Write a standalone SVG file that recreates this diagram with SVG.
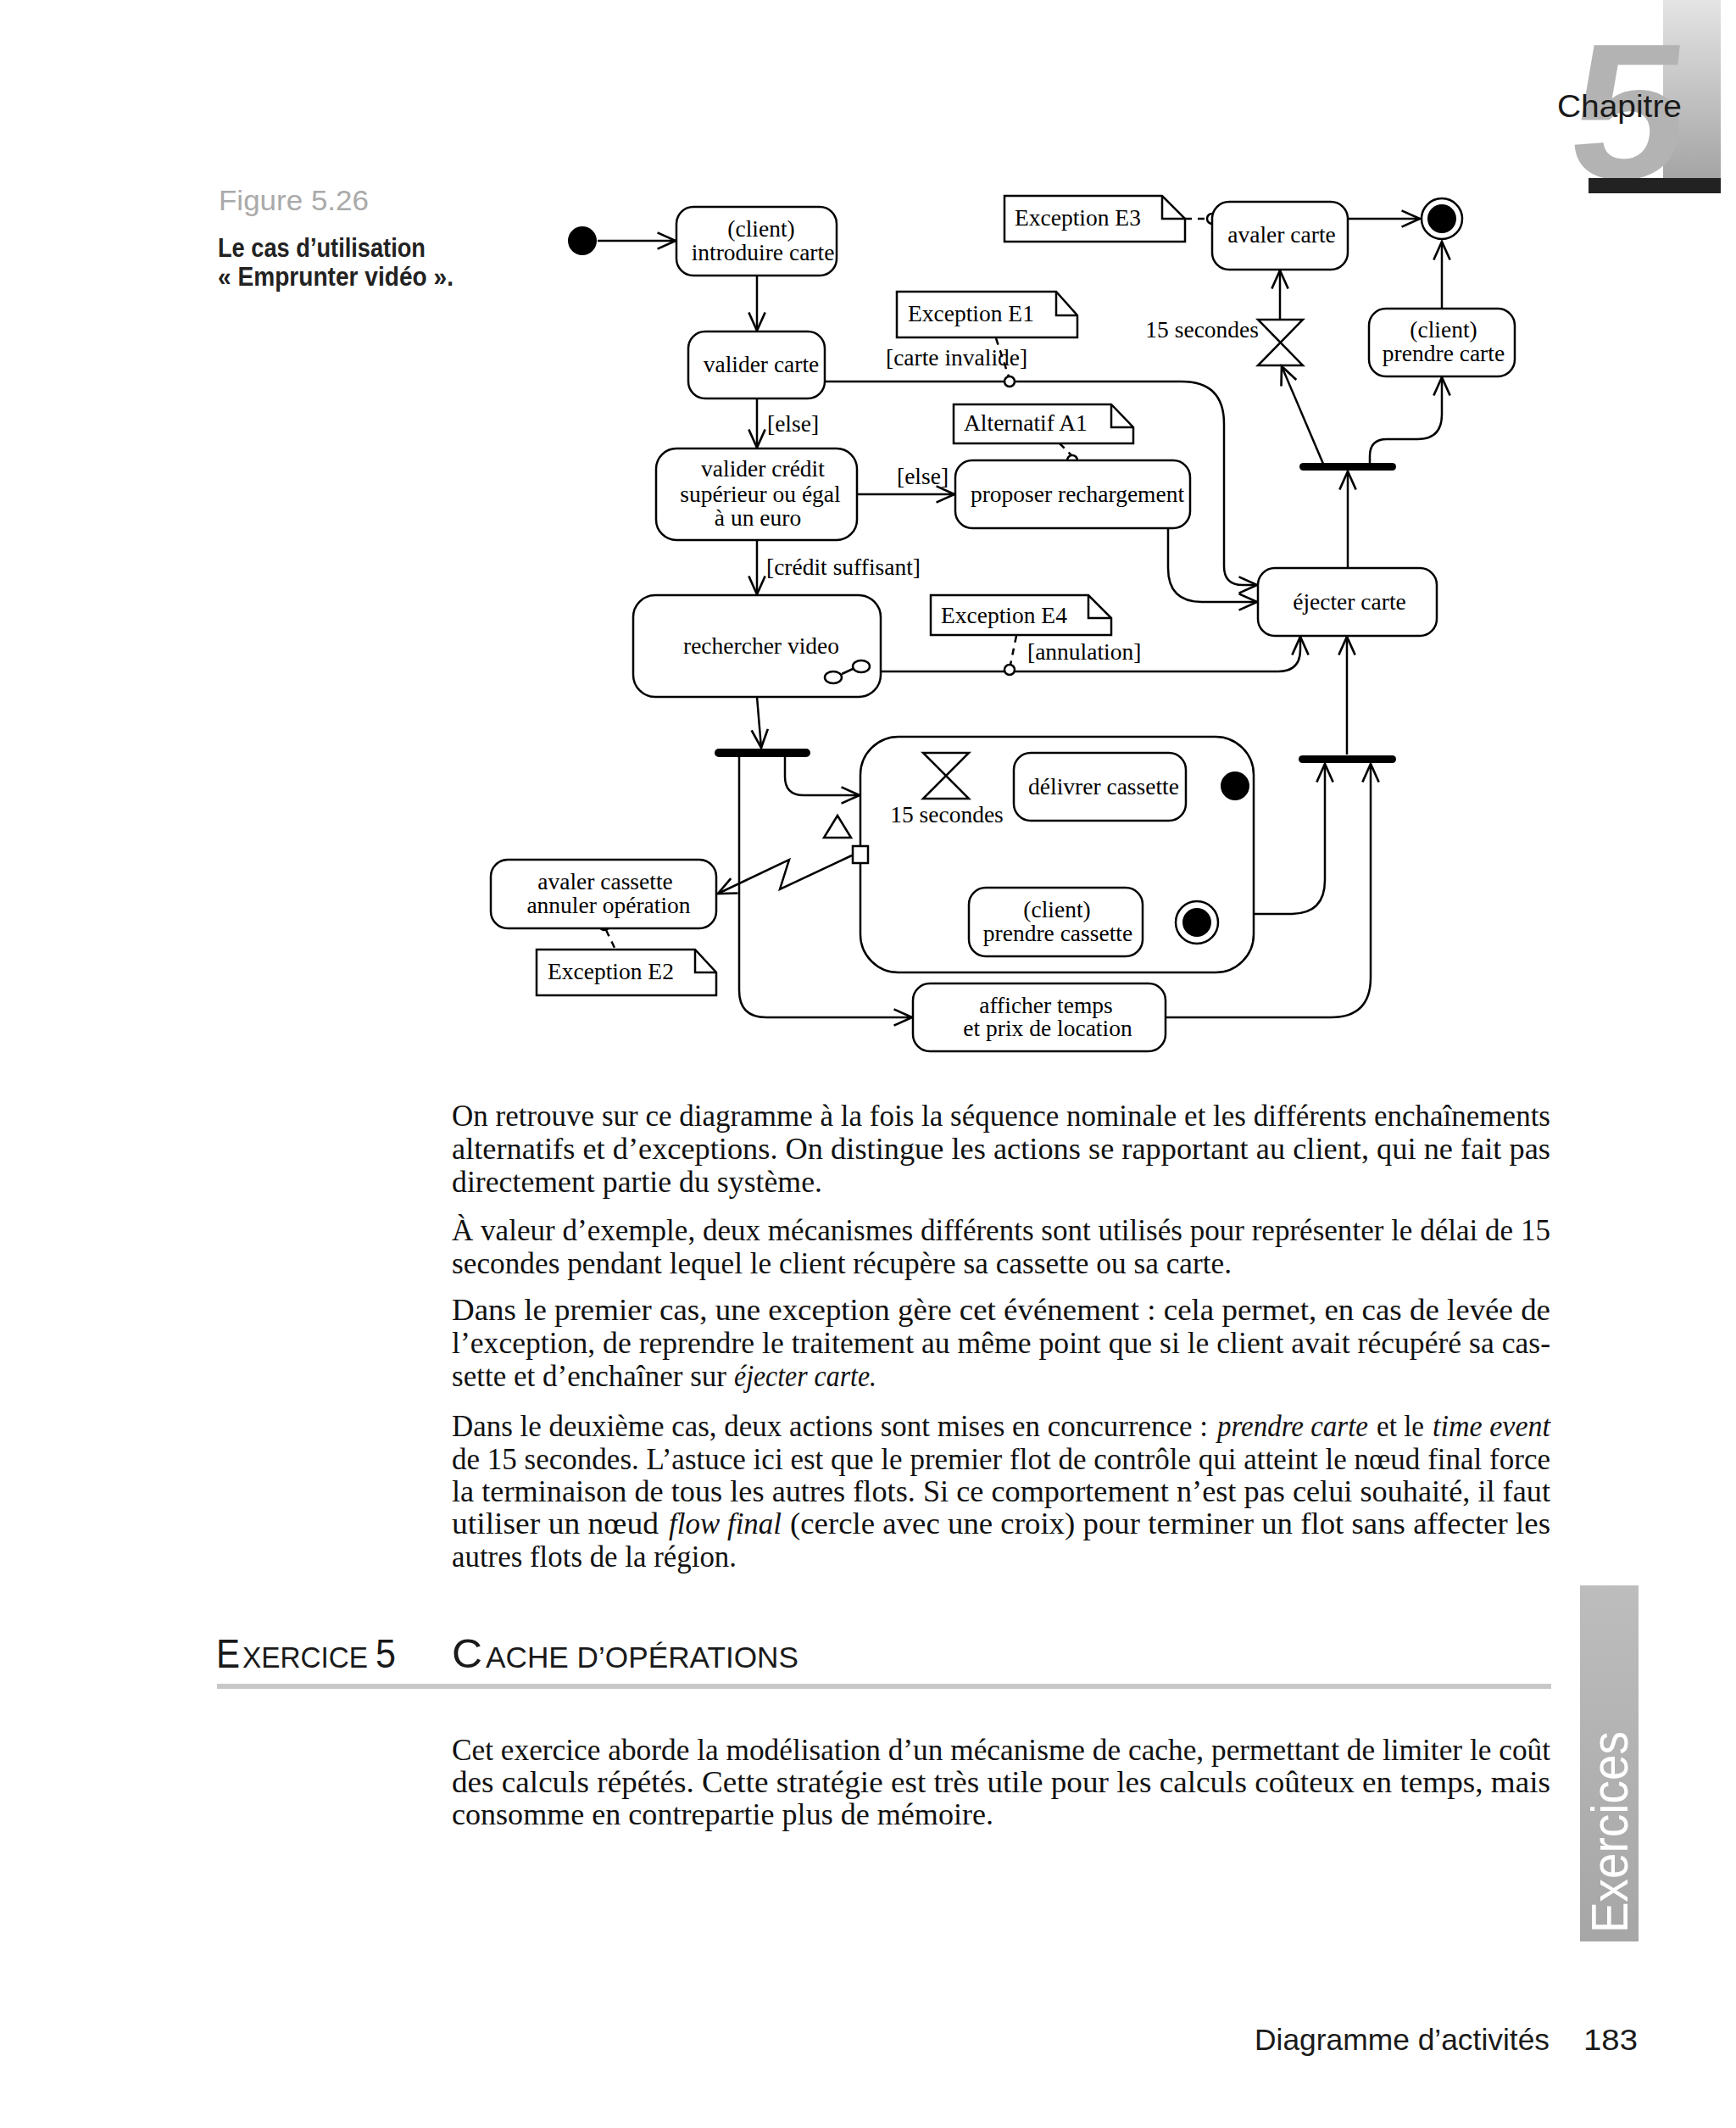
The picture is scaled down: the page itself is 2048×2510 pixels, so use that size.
<svg xmlns="http://www.w3.org/2000/svg" width="2048" height="2510" viewBox="0 0 2048 2510">
<defs>
<marker id="arr" markerUnits="userSpaceOnUse" markerWidth="30" markerHeight="30" viewBox="-24 -12 28 24" refX="0" refY="0" orient="auto">
<path d="M-20,-9 L0,0 L-20,9" fill="none" stroke="#000" stroke-width="2.5"/>
</marker>
<linearGradient id="gtop" x1="0" y1="0" x2="0" y2="1">
<stop offset="0" stop-color="#e4e4e4"/><stop offset="1" stop-color="#a4a4a4"/>
</linearGradient>
<linearGradient id="gside" x1="0" y1="0" x2="0" y2="1">
<stop offset="0" stop-color="#bdbdbd"/><stop offset="1" stop-color="#a6a6a6"/>
</linearGradient>
</defs>
<style>
.box{fill:#fff;stroke:#000;stroke-width:2.5}
.note{fill:#fff;stroke:#000;stroke-width:2.5;stroke-linejoin:miter}
.ln{fill:none;stroke:#000;stroke-width:2.5}
.ar{fill:none;stroke:#000;stroke-width:2.5;marker-end:url(#arr)}
.dash{fill:none;stroke:#000;stroke-width:2.5;stroke-dasharray:8,7}
.pin{fill:#fff;stroke:#000;stroke-width:2.5}
.bar{fill:#000}
.t{font-family:"Liberation Serif","Times New Roman",serif;font-size:27.5px;fill:#000}
.c{text-anchor:middle}
.body{font-family:"Liberation Serif","Times New Roman",serif;font-size:35px;fill:#111}
.it{font-style:italic}
.sans{font-family:"Liberation Sans",Arial,sans-serif}
</style>
<rect width="2048" height="2510" fill="#fff"/>

<!-- page decorations -->
<g id="chapter">
<rect x="1962" y="0" width="68" height="212" fill="url(#gtop)"/>
<text x="1846" y="210" font-family="Liberation Sans,Arial,sans-serif" font-size="228" font-weight="bold" fill="#b3b3b3" transform="skewX(-6) translate(22,0)" textLength="136" lengthAdjust="spacingAndGlyphs">5</text>
<rect x="1874" y="210" width="156" height="18" fill="#222"/>
<text x="1837" y="138" class="sans" font-size="36" fill="#1a1a1a" textLength="147" lengthAdjust="spacingAndGlyphs">Chapitre</text>
</g>
<g id="caption">
<text x="258" y="248" class="sans" font-size="34" fill="#aaa" textLength="177" lengthAdjust="spacingAndGlyphs">Figure 5.26</text>
<text x="257" y="303" class="sans" font-size="31" font-weight="bold" fill="#222" textLength="245" lengthAdjust="spacingAndGlyphs">Le cas d’utilisation</text>
<text x="257" y="337" class="sans" font-size="31" font-weight="bold" fill="#222" textLength="278" lengthAdjust="spacingAndGlyphs">« Emprunter vidéo ».</text>
</g>

<!-- connectors -->
<g id="connectors">
<path class="ar" d="M705,284 H797"/>
<path class="ar" d="M893,325 V390"/>
<path class="ar" d="M893,470 V528"/>
<path class="ar" d="M893,637 V701"/>
<path class="ar" d="M1011,583 H1126"/>
<path class="ar" d="M973,450 H1394 Q1444,450 1444,500 V668 Q1444,690 1466,690 H1483"/>
<path class="ar" d="M1378,623 V670 Q1378,710 1418,710 H1483"/>
<path class="ar" d="M1039,792 H1508 Q1534,792 1534,766 V751"/>
<path class="ar" d="M1590,670 V556"/>
<path class="ar" d="M1561,547 L1512,432"/>
<path class="ar" d="M1616,547 V538 Q1616,518 1636,518 H1672 Q1701,518 1701,489 V445"/>
<path class="ar" d="M1510,377 V319"/>
<path class="ar" d="M1701,364 V285"/>
<path class="ar" d="M1590,258 H1675"/>
<path class="ar" d="M893,822 L898,882"/>
<path class="ar" d="M926,893 V916 Q926,938 948,938 H1014"/>
<path class="ar" d="M872,893 V1168 Q872,1200 904,1200 H1076"/>
<path class="ar" d="M1440,927 H1400"/>
<path class="ar" d="M1246,968 V1046"/>
<path class="ar" d="M1348,1088 H1386"/>
<path class="ar" d="M1116,980 V988 Q1116,1007 1097,1007 H1025"/>
<path class="ar" d="M1005,1009 L920,1049 L931,1014 L847,1054"/>
<path class="ar" d="M1479,1078 H1523 Q1563,1078 1563,1038 V901"/>
<path class="ar" d="M1375,1200 H1570 Q1617,1200 1617,1153 V901"/>
<path class="ar" d="M1589,890 V751"/>
<!-- note anchors -->
<path class="dash" d="M1175,399 L1190,444"/>
<path class="dash" d="M1250,523 L1264,537"/>
<path class="dash" d="M1398,258 H1424"/>
<path class="dash" d="M1199,750 L1192,784"/>
<path class="dash" d="M715,1097 L726,1120"/>
<circle class="pin" cx="1191" cy="450" r="6"/>
<circle class="pin" cx="1265" cy="543" r="6"/>
<circle class="pin" cx="1430" cy="258" r="6"/>
<circle class="pin" cx="1191" cy="790" r="6"/>
<circle class="pin" cx="713" cy="1091" r="6"/>
</g>

<!-- nodes -->
<g id="initial"><circle cx="687" cy="284" r="17" fill="#000"/></g>
<g id="introduire">
<rect class="box" x="798" y="244" width="189" height="81" rx="20"/>
<text class="t c" x="898" y="279">(client)</text>
<text class="t c" x="900" y="307">introduire carte</text>
</g>
<g id="valider-carte">
<rect class="box" x="812" y="391" width="161" height="79" rx="20"/>
<text class="t c" x="898" y="439">valider carte</text>
</g>
<g id="label-invalide"><text class="t" x="1045" y="431">[carte invalide]</text></g>
<g id="label-else1"><text class="t" x="905" y="509">[else]</text></g>
<g id="note-e1">
<path class="note" d="M1058,344 H1246 L1271,372 V398 H1058 Z M1246,344 V372 H1271"/>
<text class="t" x="1071" y="379">Exception E1</text>
</g>
<g id="valider-credit">
<rect class="box" x="774" y="529" width="237" height="108" rx="24"/>
<text class="t c" x="900" y="562">valider crédit</text>
<text class="t c" x="897" y="592">supérieur ou égal</text>
<text class="t c" x="894" y="620">à un euro</text>
</g>
<g id="label-else2"><text class="t" x="1058" y="571">[else]</text></g>
<g id="proposer">
<rect class="box" x="1127" y="543" width="277" height="80" rx="20"/>
<text class="t c" x="1271" y="592">proposer rechargement</text>
</g>
<g id="note-a1">
<path class="note" d="M1125,477 H1311 L1337,504 V523 H1125 Z M1311,477 V504 H1337"/>
<text class="t" x="1137" y="508">Alternatif A1</text>
</g>
<g id="label-credit"><text class="t" x="904" y="678">[crédit suffisant]</text></g>
<g id="rechercher">
<rect class="box" x="747" y="702" width="292" height="120" rx="26"/>
<text class="t c" x="898" y="771">rechercher video</text>
<ellipse cx="983" cy="799" rx="10" ry="7" fill="#fff" stroke="#000" stroke-width="2.5"/>
<ellipse cx="1016" cy="786" rx="10" ry="7" fill="#fff" stroke="#000" stroke-width="2.5"/>
<path class="ln" d="M993,795 L1006,789"/>
</g>
<g id="note-e4">
<path class="note" d="M1098,702 H1284 L1311,729 V749 H1098 Z M1284,702 V729 H1311"/>
<text class="t" x="1110" y="735">Exception E4</text>
</g>
<g id="label-annulation"><text class="t" x="1212" y="778">[annulation]</text></g>
<g id="note-e3">
<path class="note" d="M1185,231 H1371 L1398,258 V285 H1185 Z M1371,231 V258 H1398"/>
<text class="t" x="1197" y="266">Exception E3</text>
</g>
<g id="avaler-carte">
<rect class="box" x="1430" y="238" width="160" height="80" rx="20"/>
<text class="t c" x="1512" y="286">avaler carte</text>
</g>
<g id="final-top">
<circle cx="1701" cy="258" r="24" fill="#fff" stroke="#000" stroke-width="2.5"/>
<circle cx="1701" cy="258" r="17" fill="#000"/>
</g>
<g id="timer-top">
<path class="ln" d="M1484,377 H1537 L1484,431 H1537 Z" fill="#fff"/>
<text class="t" x="1485" y="398" text-anchor="end">15 secondes</text>
</g>
<g id="prendre-carte">
<rect class="box" x="1615" y="364" width="172" height="80" rx="20"/>
<text class="t c" x="1703" y="398">(client)</text>
<text class="t c" x="1703" y="426">prendre carte</text>
</g>
<g id="fork-top"><rect class="bar" x="1533" y="546" width="114" height="9" rx="4.5"/></g>
<g id="ejecter">
<rect class="box" x="1484" y="670" width="211" height="80" rx="20"/>
<text class="t c" x="1592" y="719">éjecter carte</text>
</g>
<g id="fork-mid"><rect class="bar" x="843" y="883" width="113" height="10" rx="5"/></g>
<g id="region">
<rect class="box" x="1015" y="869" width="464" height="278" rx="45" fill="none"/>
<path class="ln" d="M1089,888 H1143 L1089,942 H1143 Z" fill="#fff"/>
<text class="t c" x="1117" y="970">15 secondes</text>
<path class="ln" d="M988,962 L1004,988 H972 Z" fill="#fff"/>
<rect class="pin" x="1006" y="998" width="18" height="20"/>
</g>
<g id="initial-region"><circle cx="1457" cy="927" r="17" fill="#000"/></g>
<g id="delivrer">
<rect class="box" x="1196" y="888" width="203" height="80" rx="20"/>
<text class="t c" x="1302" y="937">délivrer cassette</text>
</g>
<g id="prendre-cassette">
<rect class="box" x="1143" y="1047" width="205" height="81" rx="20"/>
<text class="t c" x="1247" y="1082">(client)</text>
<text class="t c" x="1248" y="1110">prendre cassette</text>
</g>
<g id="final-region">
<circle cx="1412" cy="1088" r="25" fill="#fff" stroke="#000" stroke-width="2.5"/>
<circle cx="1412" cy="1088" r="17" fill="#000"/>
</g>
<g id="avaler-cassette">
<rect class="box" x="579" y="1014" width="266" height="81" rx="20"/>
<text class="t c" x="714" y="1049">avaler cassette</text>
<text class="t c" x="718" y="1077">annuler opération</text>
</g>
<g id="note-e2">
<path class="note" d="M633,1120 H820 L845,1147 V1174 H633 Z M820,1120 V1147 H845"/>
<text class="t" x="646" y="1155">Exception E2</text>
</g>
<g id="join-right"><rect class="bar" x="1532" y="891" width="115" height="9" rx="4.5"/></g>
<g id="afficher">
<rect class="box" x="1077" y="1160" width="298" height="80" rx="20"/>
<text class="t c" x="1234" y="1195">afficher temps</text>
<text class="t c" x="1236" y="1222">et prix de location</text>
</g>

<!-- body text -->
<g id="text">
<text class="body" x="533" y="1328" textLength="1296" lengthAdjust="spacingAndGlyphs">On retrouve sur ce diagramme à la fois la séquence nominale et les différents enchaînements</text>
<text class="body" x="533" y="1367" textLength="1296" lengthAdjust="spacingAndGlyphs">alternatifs et d’exceptions. On distingue les actions se rapportant au client, qui ne fait pas</text>
<text class="body" x="533" y="1406" textLength="437" lengthAdjust="spacingAndGlyphs">directement partie du système.</text>
<text class="body" x="533" y="1463" textLength="1296" lengthAdjust="spacingAndGlyphs">À valeur d’exemple, deux mécanismes différents sont utilisés pour représenter le délai de 15</text>
<text class="body" x="533" y="1502" textLength="920" lengthAdjust="spacingAndGlyphs">secondes pendant lequel le client récupère sa cassette ou sa carte.</text>
<text class="body" x="533" y="1557" textLength="1296" lengthAdjust="spacingAndGlyphs">Dans le premier cas, une exception gère cet événement : cela permet, en cas de levée de</text>
<text class="body" x="533" y="1596" textLength="1296" lengthAdjust="spacingAndGlyphs">l’exception, de reprendre le traitement au même point que si le client avait récupéré sa cas-</text>
<text class="body" x="533" y="1635" textLength="324" lengthAdjust="spacingAndGlyphs">sette et d’enchaîner sur</text>
<text class="body it" x="866" y="1635" textLength="168" lengthAdjust="spacingAndGlyphs">éjecter carte.</text>
<text class="body" x="533" y="1694" textLength="892" lengthAdjust="spacingAndGlyphs">Dans le deuxième cas, deux actions sont mises en concurrence :</text>
<text class="body it" x="1436" y="1694" textLength="178" lengthAdjust="spacingAndGlyphs">prendre carte</text>
<text class="body" x="1624" y="1694" textLength="56" lengthAdjust="spacingAndGlyphs">et le</text>
<text class="body it" x="1690" y="1694" textLength="139" lengthAdjust="spacingAndGlyphs">time event</text>
<text class="body" x="533" y="1733" textLength="1296" lengthAdjust="spacingAndGlyphs">de 15 secondes. L’astuce ici est que le premier flot de contrôle qui atteint le nœud final force</text>
<text class="body" x="533" y="1771" textLength="1296" lengthAdjust="spacingAndGlyphs">la terminaison de tous les autres flots. Si ce comportement n’est pas celui souhaité, il faut</text>
<text class="body" x="533" y="1809" textLength="244" lengthAdjust="spacingAndGlyphs">utiliser un nœud</text>
<text class="body it" x="789" y="1809" textLength="133" lengthAdjust="spacingAndGlyphs">flow final</text>
<text class="body" x="932" y="1809" textLength="897" lengthAdjust="spacingAndGlyphs">(cercle avec une croix) pour terminer un flot sans affecter les</text>
<text class="body" x="533" y="1848" textLength="336" lengthAdjust="spacingAndGlyphs">autres flots de la région.</text>
</g>
<g id="heading">
<text x="255" y="1967" class="sans" font-size="48" fill="#1a1a1a" textLength="28" lengthAdjust="spacingAndGlyphs">E</text>
<text x="286" y="1967" class="sans" font-size="35" fill="#1a1a1a" textLength="148" lengthAdjust="spacingAndGlyphs">XERCICE</text>
<text x="443" y="1967" class="sans" font-size="48" fill="#1a1a1a" textLength="24" lengthAdjust="spacingAndGlyphs">5</text>
<text x="533" y="1967" class="sans" font-size="48" fill="#1a1a1a" textLength="36" lengthAdjust="spacingAndGlyphs">C</text>
<text x="573" y="1967" class="sans" font-size="35" fill="#1a1a1a" textLength="369" lengthAdjust="spacingAndGlyphs">ACHE D’OPÉRATIONS</text>
<rect x="256" y="1986" width="1574" height="6" fill="#c8c8c8"/>
</g>
<g id="text2">
<text class="body" x="533" y="2076" textLength="1296" lengthAdjust="spacingAndGlyphs">Cet exercice aborde la modélisation d’un mécanisme de cache, permettant de limiter le coût</text>
<text class="body" x="533" y="2114" textLength="1296" lengthAdjust="spacingAndGlyphs">des calculs répétés. Cette stratégie est très utile pour les calculs coûteux en temps, mais</text>
<text class="body" x="533" y="2152" textLength="639" lengthAdjust="spacingAndGlyphs">consomme en contrepartie plus de mémoire.</text>
</g>
<g id="sidebar">
<rect x="1864" y="1870" width="69" height="420" fill="url(#gside)"/>
<text transform="translate(1920,2280) rotate(-90)" class="sans" font-size="62" fill="#fff" textLength="238" lengthAdjust="spacingAndGlyphs">Exercices</text>
</g>
<g id="footer">
<text x="1480" y="2418" class="sans" font-size="35" fill="#1a1a1a" textLength="348" lengthAdjust="spacingAndGlyphs">Diagramme d’activités</text>
<text x="1868" y="2418" class="sans" font-size="35" fill="#1a1a1a" textLength="64" lengthAdjust="spacingAndGlyphs">183</text>
</g>
</svg>
